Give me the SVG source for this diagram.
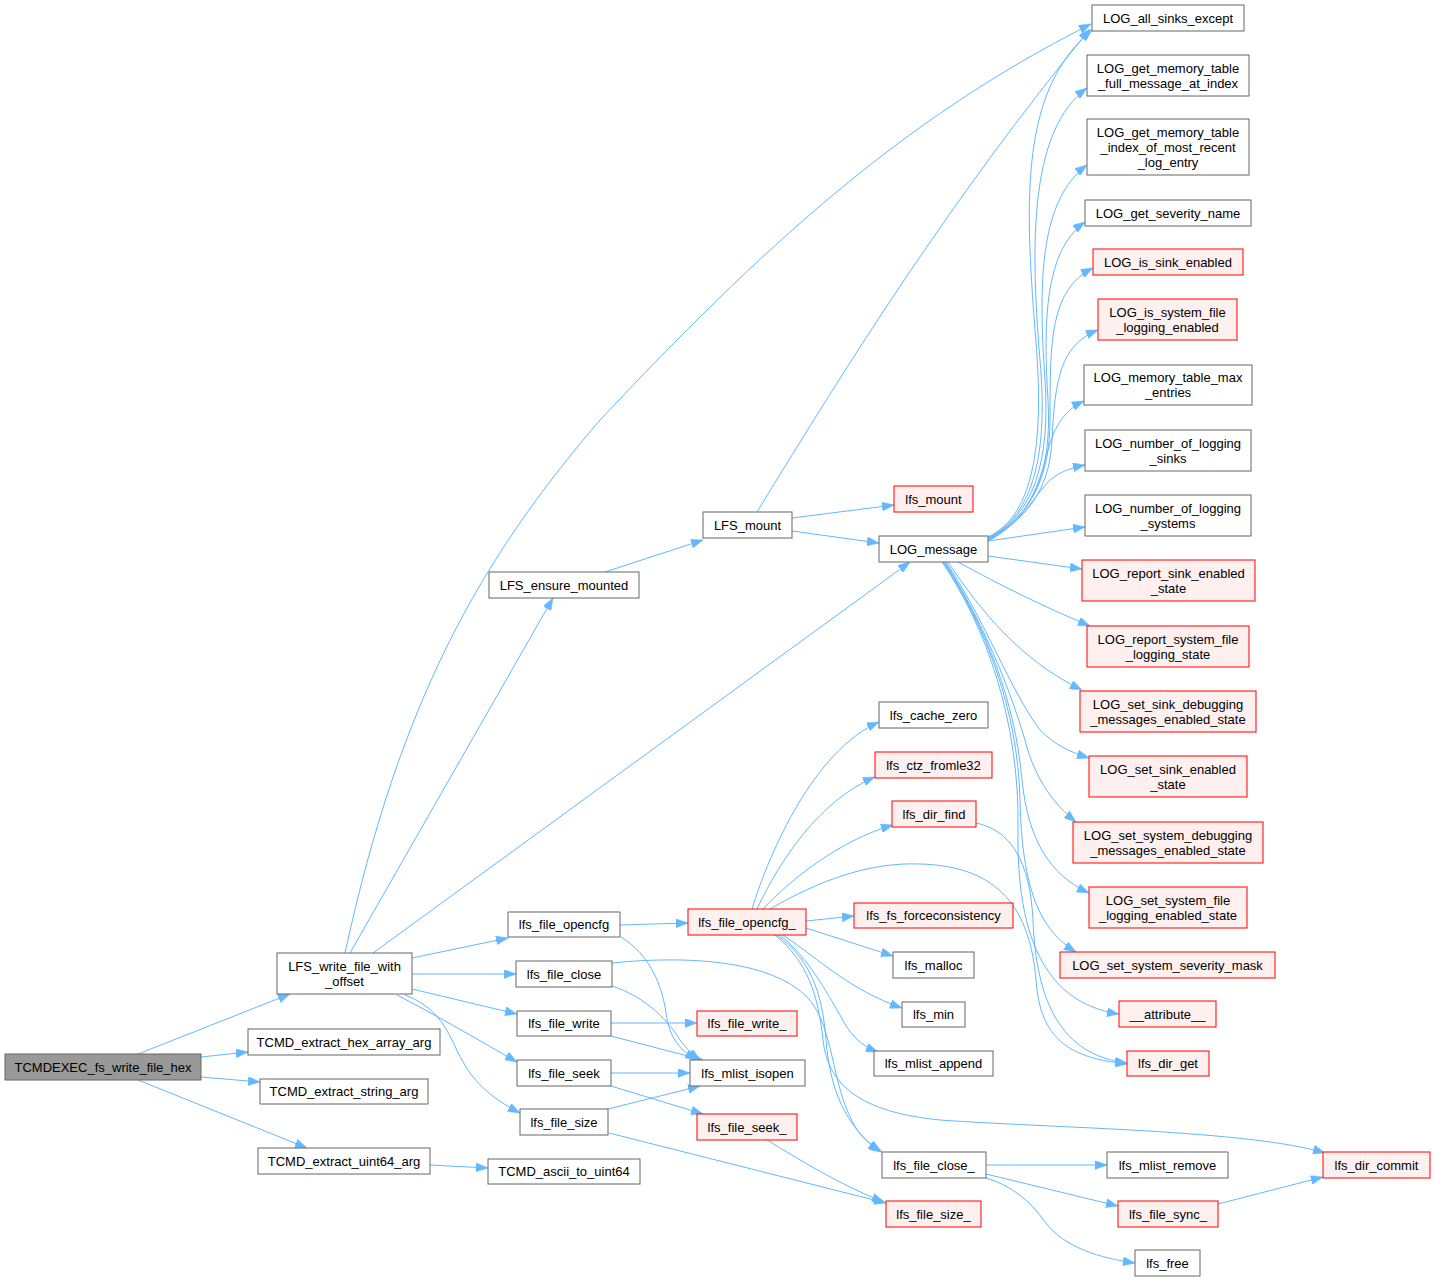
<svg xmlns="http://www.w3.org/2000/svg" width="1435" height="1282" viewBox="0 0 1435 1282">
<style>
.n rect{fill:#ffffff;stroke:#666666;stroke-width:1}
.r rect{fill:#fff0f0;stroke:#ff0000;stroke-width:1}
.g rect{fill:#999999;stroke:#666666;stroke-width:1}
text{font-family:"Liberation Sans",Arial,Helvetica,sans-serif;font-size:13px;text-anchor:middle;fill:#000000}
#edges path{fill:none;stroke:#63b8ff;stroke-width:1;marker-end:url(#arr)}
</style>
<defs>
<marker id="arr" markerUnits="userSpaceOnUse" markerWidth="12" markerHeight="9" viewBox="0 0 12 9" refX="12" refY="4.5" orient="auto">
<path d="M0,0 L12,4.5 L0,9 z" fill="#63b8ff" stroke="#63b8ff" stroke-width="0.5"/>
</marker>
</defs>
<rect x="0" y="0" width="1435" height="1282" fill="#ffffff"/>
<g id="edges">
<path d="M138,1054 L290,994"/>
<path d="M201,1057 L248,1052"/>
<path d="M201,1077 L260,1082"/>
<path d="M138,1080 L307,1148"/>
<path d="M430,1165 L488,1168"/>
<path d="M350,953 L553,598"/>
<path d="M345,953 C400,700 480,560 600,420 C760,250 900,120 1091,24"/>
<path d="M373,953 L910,562"/>
<path d="M412,958 L508,938"/>
<path d="M412,974 L516,974"/>
<path d="M412,989 L517,1014"/>
<path d="M397,995 C430,1012 470,1035 517,1062"/>
<path d="M405,995 C445,1010 450,1040 462,1060 C475,1085 495,1100 520,1113"/>
<path d="M605,572 L703,540"/>
<path d="M757,512 C850,360 950,200 1090,29"/>
<path d="M792,518 L894,505"/>
<path d="M792,531 L879,543"/>
<path d="M620,925 L688,923"/>
<path d="M621,937 C650,955 662,985 666,1013 C670,1040 680,1050 697,1060"/>
<path d="M612,986 C640,995 665,1015 680,1040 C688,1050 693,1055 700,1060"/>
<path d="M611,1023 L697,1023"/>
<path d="M611,1036 L703,1060"/>
<path d="M611,1073 L690,1073"/>
<path d="M611,1086 L703,1114"/>
<path d="M608,1109 L700,1086"/>
<path d="M609,1133 L886,1203"/>
<path d="M767,1140 C800,1160 840,1185 884,1202"/>
<path d="M752,909 C770,850 815,750 879,722"/>
<path d="M757,909 C780,860 820,800 875,777"/>
<path d="M763,909 C790,880 840,840 893,825"/>
<path d="M770,909 C820,880 870,862 920,864 C1000,866 1030,910 1036,980 C1040,1040 1070,1058 1127,1064"/>
<path d="M806,921 L854,916"/>
<path d="M806,928 L893,956"/>
<path d="M783,935 C820,960 850,990 902,1008"/>
<path d="M780,935 C810,960 825,990 840,1015 C850,1035 860,1045 878,1052"/>
<path d="M777,935 C810,960 822,990 826,1040 C830,1090 845,1125 880,1152"/>
<path d="M775,935 C808,962 818,995 823,1040 C828,1085 860,1112 940,1120 C1050,1128 1250,1130 1325,1153"/>
<path d="M612,963 C680,956 770,958 808,998 C830,1022 832,1070 845,1105 C855,1130 862,1140 882,1152"/>
<path d="M986,1165 L1107,1165"/>
<path d="M986,1174 L1118,1206"/>
<path d="M986,1178 C1010,1185 1030,1200 1045,1222 C1065,1248 1100,1258 1135,1263"/>
<path d="M1218,1204 L1323,1177"/>
<path d="M976,823 C1010,830 1030,860 1033,920 C1036,1000 1060,1055 1127,1063"/>
<path d="M988,537 C1035,515 1045,440 1035,330 C1025,200 1020,90 1092,30"/>
<path d="M988,538 C1035,515 1048,450 1040,360 C1030,240 1030,130 1087,88"/>
<path d="M988,538 C1035,515 1050,460 1045,380 C1038,280 1040,200 1087,165"/>
<path d="M988,539 C1035,515 1052,470 1048,400 C1043,320 1045,250 1085,222"/>
<path d="M988,539 C1035,515 1050,470 1050,420 C1050,340 1050,290 1093,268"/>
<path d="M988,540 C1035,515 1050,480 1052,440 C1055,380 1060,345 1098,330"/>
<path d="M988,540 C1030,520 1040,480 1048,450 C1055,425 1065,410 1084,401"/>
<path d="M988,541 C1020,525 1035,495 1050,480 C1060,472 1070,468 1085,465"/>
<path d="M988,541 L1085,527"/>
<path d="M988,556 L1082,569"/>
<path d="M958,562 C1000,585 1040,605 1090,626"/>
<path d="M948,562 C980,610 1020,660 1082,690"/>
<path d="M946,562 C985,620 1010,690 1040,730 C1055,745 1070,752 1089,758"/>
<path d="M945,562 C985,625 1010,690 1025,740 C1035,780 1055,805 1076,822"/>
<path d="M944,562 C985,625 1015,700 1022,780 C1028,840 1050,875 1089,893"/>
<path d="M943,562 C985,625 1018,710 1020,800 C1022,890 1040,930 1076,952"/>
<path d="M942,562 C985,625 1020,720 1018,830 C1016,960 1060,1005 1119,1014"/>
</g>
<g id="n1" class="g"><rect x="5" y="1054" width="196" height="26"/><text x="103" y="1071.5">TCMDEXEC_fs_write_file_hex</text></g>
<g id="n2" class="n"><rect x="277" y="953" width="135" height="41"/><text x="344.5" y="970.5">LFS_write_file_with</text><text x="344.5" y="985.5">_offset</text></g>
<g id="n3" class="n"><rect x="248" y="1029" width="192" height="26"/><text x="344" y="1046.5">TCMD_extract_hex_array_arg</text></g>
<g id="n4" class="n"><rect x="260" y="1079" width="168" height="25"/><text x="344" y="1096">TCMD_extract_string_arg</text></g>
<g id="n5" class="n"><rect x="258" y="1148" width="172" height="26"/><text x="344" y="1165.5">TCMD_extract_uint64_arg</text></g>
<g id="n6" class="n"><rect x="488" y="1159" width="152" height="25"/><text x="564" y="1176">TCMD_ascii_to_uint64</text></g>
<g id="n7" class="n"><rect x="489" y="572" width="150" height="26"/><text x="564" y="589.5">LFS_ensure_mounted</text></g>
<g id="n8" class="n"><rect x="703" y="512" width="89" height="26"/><text x="747.5" y="529.5">LFS_mount</text></g>
<g id="n9" class="r"><rect x="894" y="486" width="79" height="26"/><text x="933.5" y="503.5">lfs_mount</text></g>
<g id="n10" class="n"><rect x="879" y="536" width="109" height="26"/><text x="933.5" y="553.5">LOG_message</text></g>
<g id="n11" class="n"><rect x="508" y="912" width="112" height="25"/><text x="564" y="929">lfs_file_opencfg</text></g>
<g id="n12" class="r"><rect x="688" y="909" width="118" height="26"/><text x="747" y="926.5">lfs_file_opencfg_</text></g>
<g id="n13" class="n"><rect x="516" y="961" width="96" height="26"/><text x="564" y="978.5">lfs_file_close</text></g>
<g id="n14" class="n"><rect x="517" y="1011" width="94" height="25"/><text x="564" y="1028">lfs_file_write</text></g>
<g id="n15" class="r"><rect x="697" y="1011" width="100" height="25"/><text x="747" y="1028">lfs_file_write_</text></g>
<g id="n16" class="n"><rect x="517" y="1060" width="94" height="26"/><text x="564" y="1077.5">lfs_file_seek</text></g>
<g id="n17" class="n"><rect x="690" y="1060" width="115" height="26"/><text x="747.5" y="1077.5">lfs_mlist_isopen</text></g>
<g id="n18" class="n"><rect x="520" y="1109" width="88" height="26"/><text x="564" y="1126.5">lfs_file_size</text></g>
<g id="n19" class="r"><rect x="697" y="1114" width="100" height="26"/><text x="747" y="1131.5">lfs_file_seek_</text></g>
<g id="n20" class="r"><rect x="886" y="1201" width="95" height="26"/><text x="933.5" y="1218.5">lfs_file_size_</text></g>
<g id="n21" class="n"><rect x="882" y="1152" width="104" height="26"/><text x="934" y="1169.5">lfs_file_close_</text></g>
<g id="n22" class="n"><rect x="879" y="702" width="109" height="26"/><text x="933.5" y="719.5">lfs_cache_zero</text></g>
<g id="n23" class="r"><rect x="875" y="752" width="117" height="26"/><text x="933.5" y="769.5">lfs_ctz_fromle32</text></g>
<g id="n24" class="r"><rect x="892" y="801" width="84" height="26"/><text x="934" y="818.5">lfs_dir_find</text></g>
<g id="n25" class="r"><rect x="854" y="903" width="159" height="25"/><text x="933.5" y="920">lfs_fs_forceconsistency</text></g>
<g id="n26" class="n"><rect x="893" y="952" width="81" height="26"/><text x="933.5" y="969.5">lfs_malloc</text></g>
<g id="n27" class="n"><rect x="902" y="1002" width="63" height="25"/><text x="933.5" y="1019">lfs_min</text></g>
<g id="n28" class="n"><rect x="874" y="1051" width="119" height="25"/><text x="933.5" y="1068">lfs_mlist_append</text></g>
<g id="n29" class="n"><rect x="1092" y="5" width="152" height="26"/><text x="1168" y="22.5">LOG_all_sinks_except</text></g>
<g id="n30" class="n"><rect x="1087" y="55" width="162" height="41"/><text x="1168" y="72.5">LOG_get_memory_table</text><text x="1168" y="87.5">_full_message_at_index</text></g>
<g id="n31" class="n"><rect x="1087" y="119" width="162" height="56"/><text x="1168" y="136.5">LOG_get_memory_table</text><text x="1168" y="151.5">_index_of_most_recent</text><text x="1168" y="166.5">_log_entry</text></g>
<g id="n32" class="n"><rect x="1085" y="200" width="166" height="26"/><text x="1168" y="217.5">LOG_get_severity_name</text></g>
<g id="n33" class="r"><rect x="1093" y="249" width="150" height="26"/><text x="1168" y="266.5">LOG_is_sink_enabled</text></g>
<g id="n34" class="r"><rect x="1098" y="299" width="139" height="41"/><text x="1167.5" y="316.5">LOG_is_system_file</text><text x="1167.5" y="331.5">_logging_enabled</text></g>
<g id="n35" class="n"><rect x="1084" y="365" width="168" height="40"/><text x="1168" y="382">LOG_memory_table_max</text><text x="1168" y="397">_entries</text></g>
<g id="n36" class="n"><rect x="1085" y="430" width="166" height="41"/><text x="1168" y="447.5">LOG_number_of_logging</text><text x="1168" y="462.5">_sinks</text></g>
<g id="n37" class="n"><rect x="1085" y="495" width="166" height="41"/><text x="1168" y="512.5">LOG_number_of_logging</text><text x="1168" y="527.5">_systems</text></g>
<g id="n38" class="r"><rect x="1082" y="560" width="173" height="41"/><text x="1168.5" y="577.5">LOG_report_sink_enabled</text><text x="1168.5" y="592.5">_state</text></g>
<g id="n39" class="r"><rect x="1087" y="626" width="162" height="41"/><text x="1168" y="643.5">LOG_report_system_file</text><text x="1168" y="658.5">_logging_state</text></g>
<g id="n40" class="r"><rect x="1080" y="691" width="176" height="41"/><text x="1168" y="708.5">LOG_set_sink_debugging</text><text x="1168" y="723.5">_messages_enabled_state</text></g>
<g id="n41" class="r"><rect x="1089" y="756" width="158" height="41"/><text x="1168" y="773.5">LOG_set_sink_enabled</text><text x="1168" y="788.5">_state</text></g>
<g id="n42" class="r"><rect x="1073" y="822" width="190" height="41"/><text x="1168" y="839.5">LOG_set_system_debugging</text><text x="1168" y="854.5">_messages_enabled_state</text></g>
<g id="n43" class="r"><rect x="1089" y="887" width="158" height="41"/><text x="1168" y="904.5">LOG_set_system_file</text><text x="1168" y="919.5">_logging_enabled_state</text></g>
<g id="n44" class="r"><rect x="1060" y="952" width="215" height="26"/><text x="1167.5" y="969.5">LOG_set_system_severity_mask</text></g>
<g id="n45" class="r"><rect x="1119" y="1001" width="97" height="26"/><text x="1167.5" y="1018.5">__attribute__</text></g>
<g id="n46" class="r"><rect x="1127" y="1051" width="82" height="25"/><text x="1168" y="1068">lfs_dir_get</text></g>
<g id="n47" class="r"><rect x="1323" y="1152" width="107" height="26"/><text x="1376.5" y="1169.5">lfs_dir_commit</text></g>
<g id="n48" class="n"><rect x="1107" y="1152" width="121" height="26"/><text x="1167.5" y="1169.5">lfs_mlist_remove</text></g>
<g id="n49" class="r"><rect x="1118" y="1201" width="100" height="26"/><text x="1168" y="1218.5">lfs_file_sync_</text></g>
<g id="n50" class="n"><rect x="1135" y="1250" width="65" height="26"/><text x="1167.5" y="1267.5">lfs_free</text></g>
</svg>
